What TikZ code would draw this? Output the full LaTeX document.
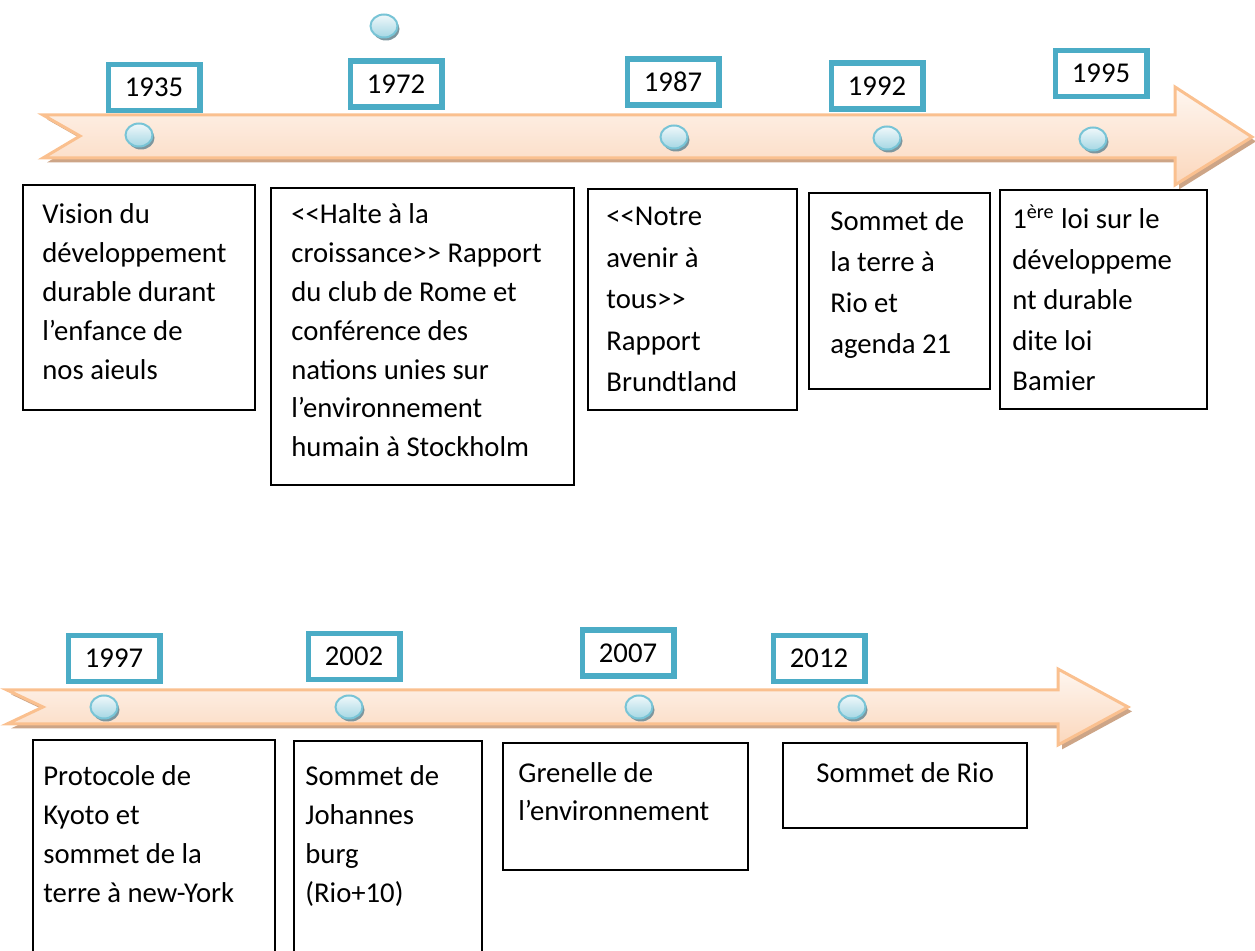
\documentclass[tikz,border=0pt]{standalone}
\usepackage{fontspec}
\setmainfont{Carlito}
\usepackage{xcolor}
\definecolor{YearCol}{RGB}{75,172,198}
\definecolor{BandLine}{RGB}{250,192,143}
\definecolor{BandTop}{RGB}{254,246,240}
\definecolor{BandBot}{RGB}{251,215,188}
\definecolor{BandShade}{RGB}{205,165,135}
\definecolor{DotLine}{RGB}{120,196,214}
\definecolor{DotTop}{RGB}{240,248,250}
\definecolor{DotBot}{RGB}{165,215,228}
\definecolor{DotShade}{RGB}{125,150,158}
\usepackage{tikz}
\usetikzlibrary{shapes.geometric}
\usetikzlibrary{shadows}
\newcommand{\Ouv}{<\kern0pt<}
\newcommand{\Ferm}{>\kern0pt>}
\tikzstyle{Band}=[draw=BandLine,line width=1.5pt,line join=miter,
top color=BandTop,bottom color=BandBot,
drop shadow={shadow xshift=2pt,shadow yshift=-2.2pt,fill=BandShade,opacity=1}]
\tikzstyle{Dot}=[ellipse,draw=DotLine,line width=1pt,inner sep=0pt,
minimum width=13.5pt,minimum height=11.5pt,top color=DotTop,bottom color=DotBot,
drop shadow={shadow xshift=1pt,shadow yshift=-1.5pt,fill=DotShade,opacity=1}]
\tikzstyle{Year}=[draw=YearCol,line width=2.75pt,fill=white,inner sep=0pt,
minimum width=45.75pt,minimum height=23pt,font=\fontsize{14.35}{17}\selectfont]
\tikzstyle{Event}=[draw=black,line width=1pt,inner sep=0pt]
\tikzset{Txt/.style={anchor=base west,inner sep=0pt,
    font=\fontsize{14.35}{#1}\selectfont},Txt/.default=20.5pt}

\begin{document}
\begin{tikzpicture}[x=0.5pt,y=-0.5pt]
        \useasboundingbox (0,0) rectangle (1255,951);
        % bands
        \path[Band] (43,115) -- (1175,115) -- (1175,87) -- (1252,137)
            -- (1175,185) -- (1175,158) -- (43,158) -- (80,136) -- cycle;
        \path[Band] (7,690) -- (1058,690) -- (1058,669) -- (1128,707)
            -- (1058,745) -- (1058,724) -- (7,724) -- (43,707) -- cycle;
        % dots
        \node[Dot](D1935)at(139,135){};
        \node[Dot](D1972)at(384,26){};
        \node[Dot](D1987)at(674,137){};
        \node[Dot](D1992)at(887,138){};
        \node[Dot](D1995)at(1093,139){};
        \node[Dot](D1997)at(104,707){};
        \node[Dot](D2002)at(349,707){};
        \node[Dot](D2007)at(639,707){};
        \node[Dot](D2012)at(852,707){};
        % years
        \node[Year](Y1935)at(154,87.5){1935};
        \node[Year](Y1972)at(396,84){1972};
        \node[Year](Y1987)at(673,82){1987};
        \node[Year](Y1992)at(877,86){1992};
        \node[Year](Y1995)at(1101,73.5){1995};
        \node[Year](Y1997)at(114,658.5){1997};
        \node[Year](Y2002)at(354,656.5){2002};
        \node[Year](Y2007)at(628,653){2007};
        \node[Year](Y2012)at(819,658.5){2012};
        % boxes
        \node[Event,minimum width=116pt,minimum height=112.5pt](E1935)at(139,297.5){};
        \node[Event,minimum width=151.5pt,minimum height=148.5pt](E1972)at(422.5,336.5){};
        \node[Event,minimum width=104.5pt,minimum height=110.5pt](E1987)at(692.5,299.5){};
        \node[Event,minimum width=90.5pt,minimum height=98pt](E1992)at(899.5,291){};
        \node[Event,minimum width=103.5pt,minimum height=109.5pt](E1995)at(1103.5,299.5){};
        \node[Event,minimum width=121pt,minimum height=109.5pt](E1997)at(154,849.5){};
        \node[Event,minimum width=94pt,minimum height=109pt](E2002)at(388,850){};
        \node[Event,minimum width=122.5pt,minimum height=63.5pt](E2007)at(625.5,806.5){};
        \node[Event,minimum width=122pt,minimum height=42.5pt](E2012)at(905,785.5){};
        % texts
        \node[Txt=19.5pt](T1935)at(42,224){\parbox[t]{200pt}{Vision du\\
            développement\\ durable durant\\ l’enfance de\\ nos aieuls}};
        \node[Txt=19.4pt](T1972)at(291,224){\parbox[t]{200pt}{\Ouv Halte à la\\
            croissance\Ferm{} Rapport\\ du club de Rome et\\ conférence des\\
            nations unies sur\\ l’environnement\\ humain à Stockholm}};
        \node[Txt=20.75pt](T1987)at(606,226){\parbox[t]{200pt}{\Ouv Notre\\
            avenir à\\ tous\Ferm\\ Rapport\\ Brundtland}};
        \node[Txt=20.35pt](T1992)at(830,231){\parbox[t]{200pt}{Sommet de\\
            la terre à\\ Rio et\\ agenda 21}};
        \node[Txt=20.2pt](T1995)at(1012,229){\parbox[t]{200pt}{1\textsuperscript{ère}
            loi sur le\\ développeme\\ nt durable\\ dite loi\\ Bamier}};
        \node[Txt=19.5pt](T1997)at(43,786){\parbox[t]{200pt}{Protocole de\\
            Kyoto et\\ sommet de la\\ terre à new-York}};
        \node[Txt=19.5pt](T2002)at(305,786){\parbox[t]{200pt}{Sommet de\\
            Johannes\\ burg\\ (Rio+10)}};
        \node[Txt=19pt](T2007)at(518,783){\parbox[t]{200pt}{Grenelle de\\
            l’environnement}};
        \node[Txt](T2012)at(816,783){\parbox[t]{200pt}{Sommet de Rio}};
    \end{tikzpicture}
\end{document}
